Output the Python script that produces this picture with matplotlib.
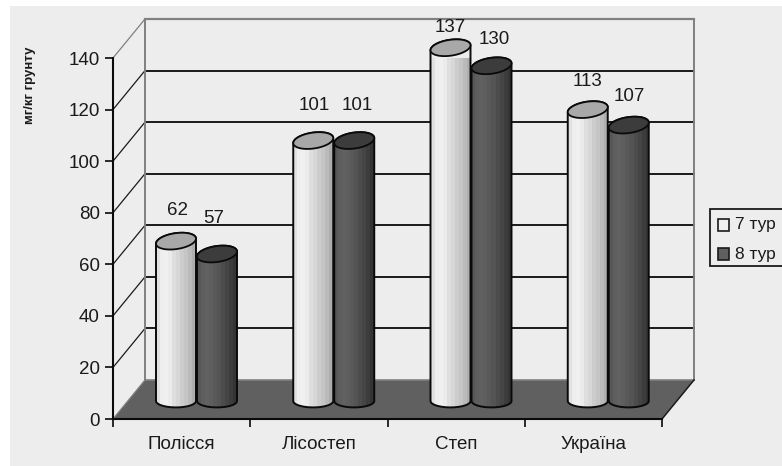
import numpy as np
import matplotlib
matplotlib.use("Agg")
import matplotlib.pyplot as plt
from matplotlib.patches import Rectangle, PathPatch
from matplotlib.path import Path

regions = ["Полісся", "Лісостеп", "Степ", "Україна"]
tur7 = [62, 101, 137, 113]
tur8 = [57, 101, 130, 107]
series_names = ["7 тур", "8 тур"]
y_ticks = [0, 20, 40, 60, 80, 100, 120, 140]

plt.rcParams["font.family"] = ["Liberation Sans", "DejaVu Sans"]

BG = "#ededed"; FLOOR = "#606060"; EDGE = "#808080"; INK = "#1a1a1a"
W, H = 782, 466
fig = plt.figure(figsize=(W/100, H/100), dpi=100, facecolor=BG)
# white margin along the top and left of the chart area
fig.add_artist(Rectangle((0, 1-6/H), 1, 6/H, transform=fig.transFigure, fc="white", ec="none"))
fig.add_artist(Rectangle((0, 0), 10/W, 1, transform=fig.transFigure, fc="white", ec="none"))

ax = fig.add_axes([113/W, 1-419/H, 549/W, 361/H], facecolor="none")
ax.set_xlim(0, 4); ax.set_ylim(0, 140)
PX = 4/549; PY = 140/361      # data units per pixel
DX, DY = 32*PX, 39*PY         # depth of the 3d box

# back wall, floor and gridlines
ax.add_patch(plt.Polygon([(0, 0), (4, 0), (4+DX, DY), (DX, DY)], fc=FLOOR, ec="none", clip_on=False, zorder=1))
ax.plot([DX, 4+DX], [DY, DY], color=EDGE, lw=1.2, clip_on=False, zorder=1)
for v in y_ticks[1:]:
    top = v == y_ticks[-1]
    ax.plot([DX, 4+DX], [v+DY, v+DY], color=EDGE if top else INK, lw=1.6 if top else 1.4, clip_on=False, zorder=1)
    ax.plot([0, DX], [v, v+DY], color=EDGE if top else INK, lw=0.9, clip_on=False, zorder=1)
ax.plot([DX, DX], [DY, 140+DY], color=EDGE, lw=1.4, clip_on=False, zorder=1)
ax.plot([4+DX, 4+DX], [DY, 140+DY], color=EDGE, lw=1.4, clip_on=False, zorder=1)
ax.plot([0, DX], [0, DY], color=EDGE, lw=0.9, clip_on=False, zorder=1)
ax.plot([4, 4+DX], [0, DY], color=INK, lw=1.1, clip_on=False, zorder=1)

LIGHT = np.array([[.88, .93, .94, .92, .87, .84, .80, .77, .73, .68]])
DARK = np.array([[.34, .37, .38, .37, .35, .33, .30, .27, .24, .21]])
BAR_W = 40*PX; RY = 8*PY; TILT = 2.5*PY; BASE_Y = 18*PY
BAR_X0 = [43*PX, 84*PX]
LABEL_OFF = [[31, 35, 20, 28], [36, 35, 26, 29]]
LABEL_DX = [[1, 1, 0, 0], [-3, 3, 3, 1]]


def cylinder(x, value, shades, top_col):
    # body with stepped shading, clipped to the outline, then the slightly tilted cap
    cx, rx = x+BAR_W/2, BAR_W/2
    y0, y1 = BASE_Y, BASE_Y+value
    t = np.linspace(np.pi, 2*np.pi, 40)
    low = np.c_[cx+rx*np.cos(t), y0+0.8*RY*np.sin(t)]
    t = np.linspace(0, np.pi, 40)
    upp = np.c_[cx+rx*np.cos(t), y1+RY*np.sin(t)+TILT*np.cos(t)]
    outline = Path(np.r_[low, upp, low[:1]])
    im = ax.imshow(shades, extent=(x, x+BAR_W, y0-RY, y1+RY+TILT), cmap="gray", vmin=0, vmax=1,
                   aspect="auto", interpolation="nearest", zorder=3)
    patch = PathPatch(outline, fc="none", ec="#0a0a0a", lw=1.4, zorder=4, clip_on=False)
    ax.add_patch(patch)
    im.set_clip_path(patch)
    t = np.linspace(0, 2*np.pi, 80)
    ax.fill(cx+rx*np.cos(t), y1+RY*np.sin(t)+TILT*np.cos(t), fc=top_col, ec="#0a0a0a", lw=1.3,
            zorder=5, clip_on=False)


for s, (vals, shades, top_col) in enumerate([(tur7, LIGHT, "#a8a8a8"), (tur8, DARK, "#3c3c3c")]):
    for i, v in enumerate(vals):
        x = i + BAR_X0[s]
        cylinder(x, v, shades, top_col)
        ax.text(x+BAR_W/2+LABEL_DX[s][i]*PX, BASE_Y+v+LABEL_OFF[s][i]*PY, str(v), ha="center", va="center",
                fontsize=13.5, color=INK, zorder=6, clip_on=False)
ax.set_xlim(0, 4); ax.set_ylim(0, 140)

# front axes
for side in ("top", "right"):
    ax.spines[side].set_visible(False)
for side in ("left", "bottom"):
    ax.spines[side].set_color("#0a0a0a"); ax.spines[side].set_linewidth(1.5); ax.spines[side].set_zorder(2)
ax.set_yticks(y_ticks)
ax.tick_params(axis="y", length=5.5, width=1.3, color=INK, labelsize=13.5, labelcolor=INK, pad=4)
ax.set_xticks(range(5)); ax.set_xticklabels([])
ax.tick_params(axis="x", which="major", length=5.5, width=1.3, color=INK)
ax.set_xticks(np.arange(4)+0.5, minor=True)
ax.set_xticklabels(regions, minor=True, fontsize=13.5, color=INK)
ax.tick_params(axis="x", which="minor", length=0, pad=12)
fig.text(30/W, 1-85/H, "мг/кг грунту", rotation=90, ha="center", va="center", fontsize=9.5,
         fontweight="bold", color=INK)

# legend box runs off the right edge
fig.add_artist(Rectangle((710/W, 1-266/H), 90/W, 57/H, transform=fig.transFigure, fc=BG, ec=INK, lw=1.3))
for yc, name, col in zip((225, 254), series_names, ("#f0f0f0", "#606060")):
    fig.add_artist(Rectangle((718/W, 1-(yc+6)/H), 11/W, 12/H, transform=fig.transFigure, fc=col, ec=INK, lw=1.2))
    fig.text(735/W, 1-yc/H, name, ha="left", va="center", fontsize=12.5, color=INK)

fig.savefig("out.png", dpi=100, facecolor=fig.get_facecolor())
